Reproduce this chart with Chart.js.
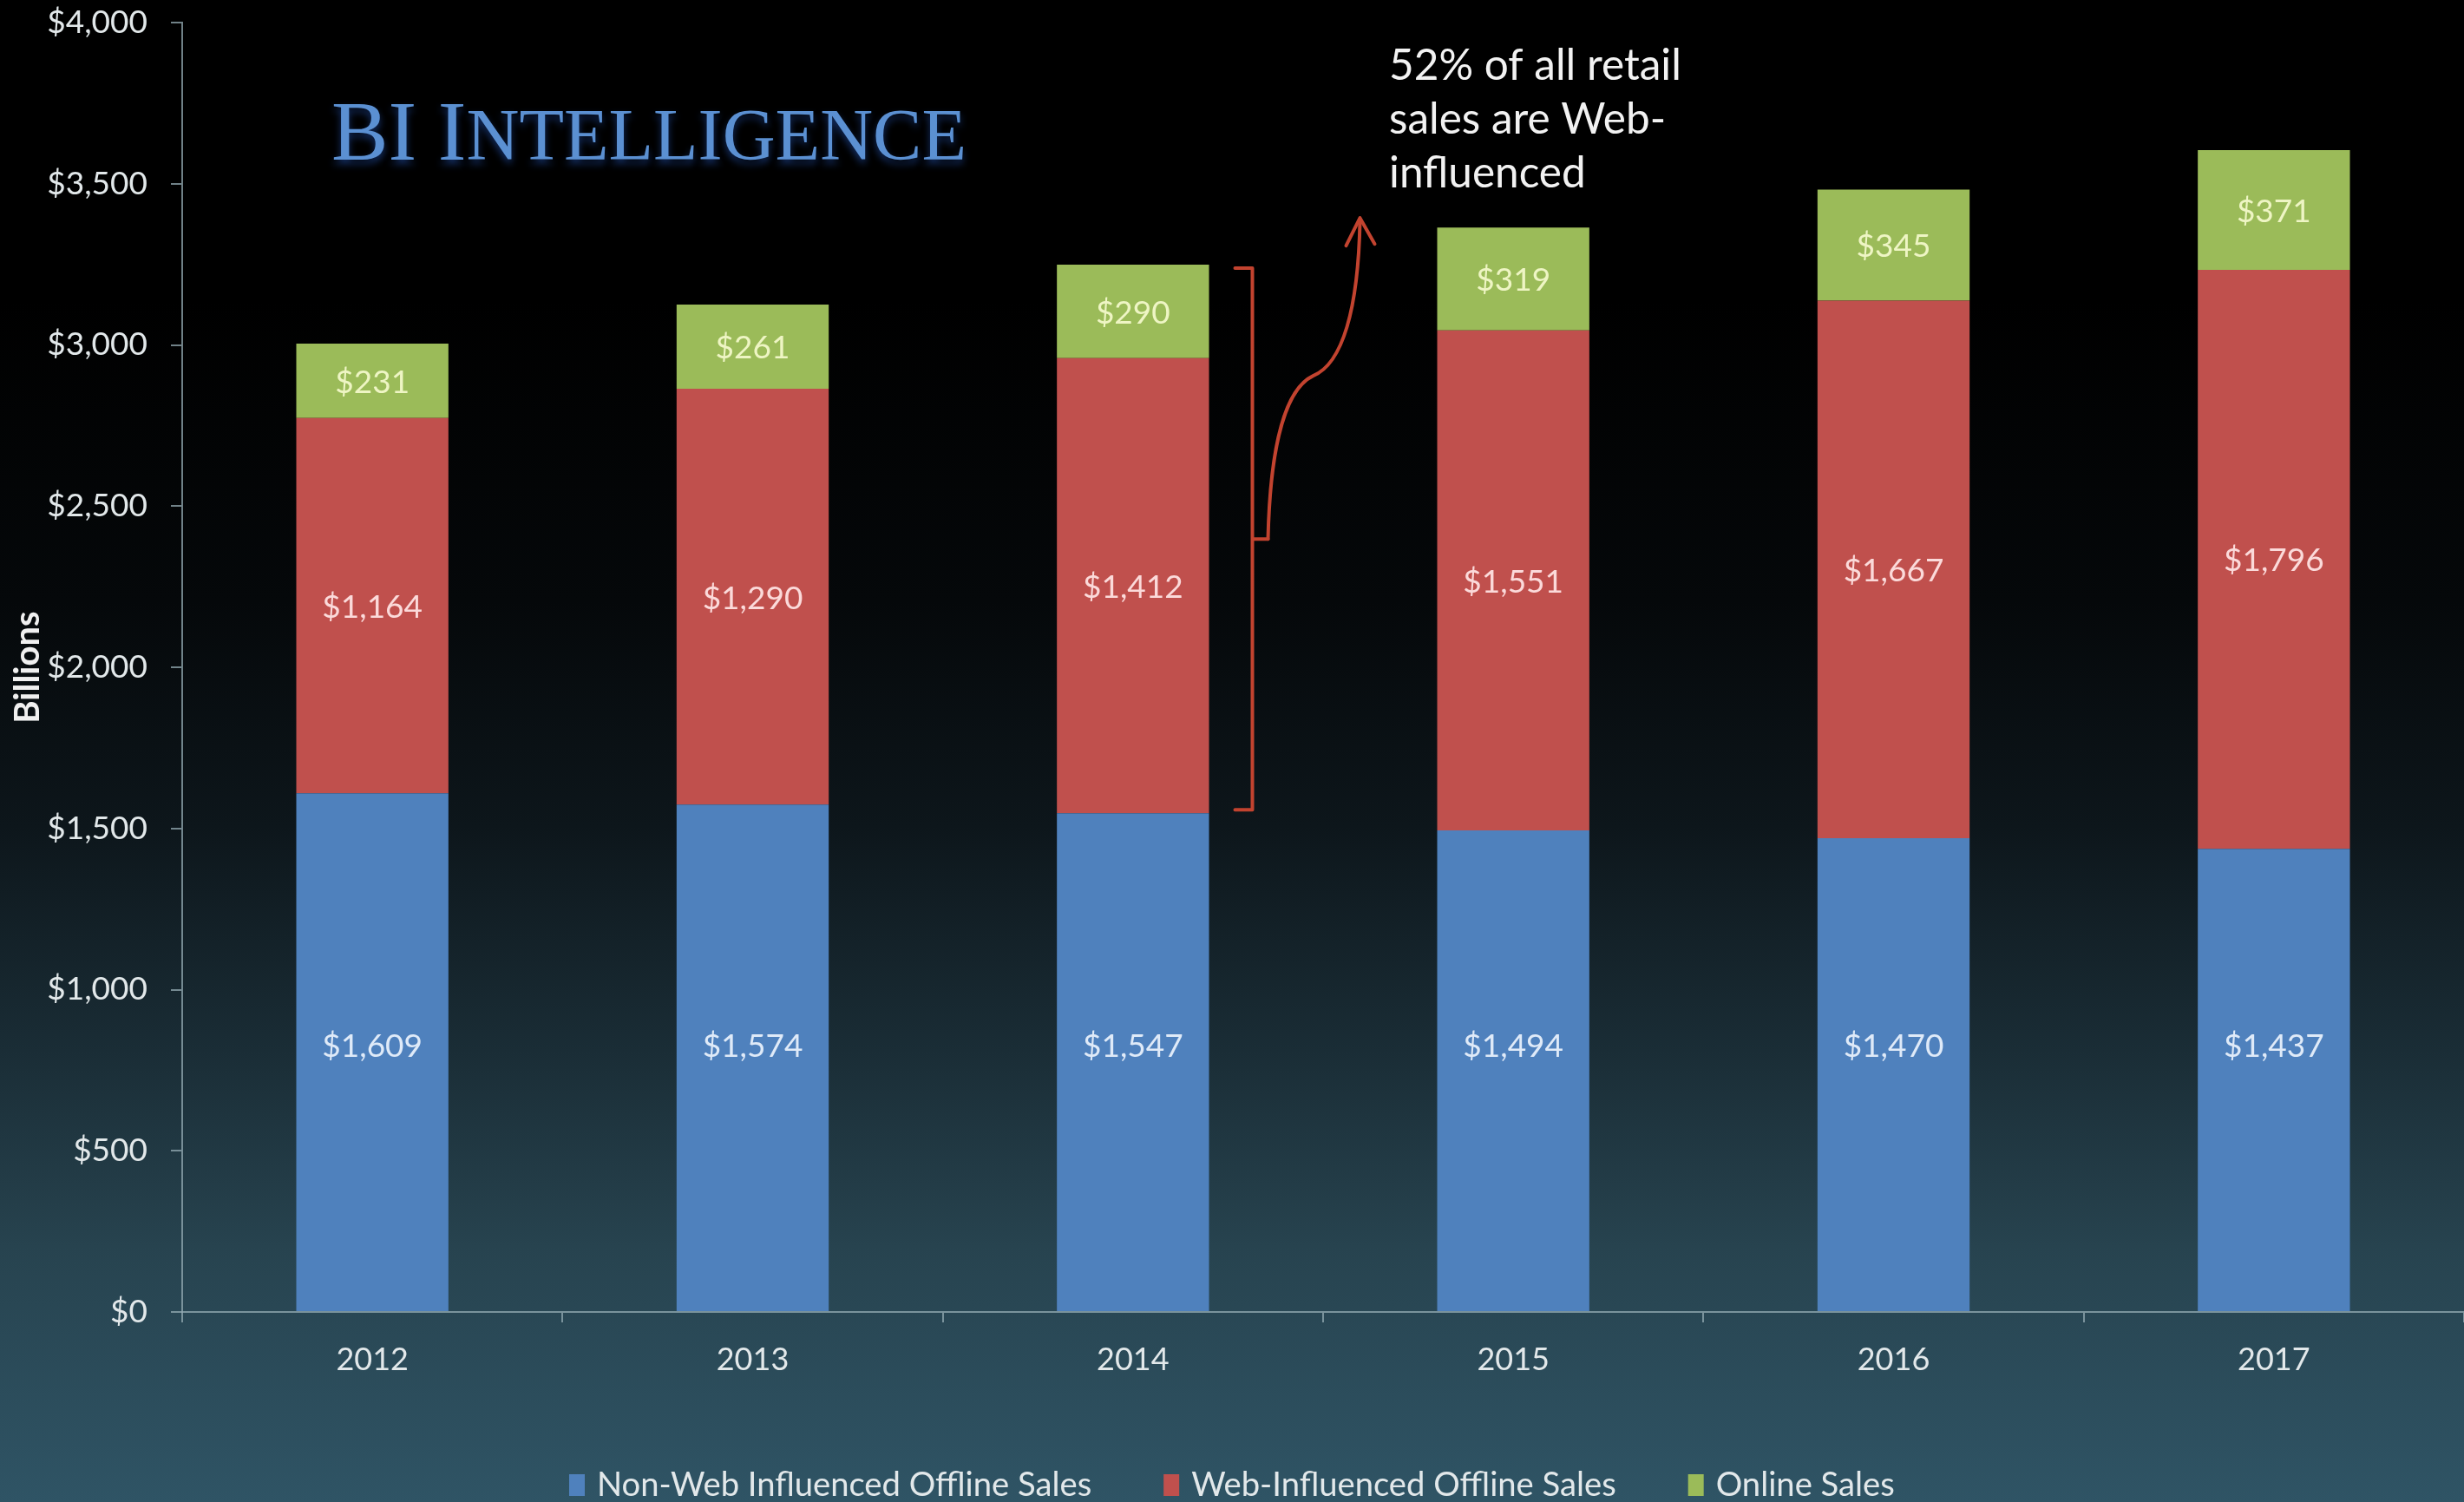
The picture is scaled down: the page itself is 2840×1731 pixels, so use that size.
<!DOCTYPE html>
<html>
<head>
<meta charset="utf-8">
<script src="https://cdn.jsdelivr.net/npm/chart.js@4.4.1/dist/chart.umd.min.js"></script>
<style>
  html, body { margin: 0; padding: 0; overflow: hidden; }
  body {
    width: 2840px; height: 1731px;
    background: linear-gradient(to bottom, #000000 0%, #000000 20%, #05080a 40%, #0d161b 55%, #1a2d36 70%, #27434f 83%, #2f5465 100%);
  }
  #wrap { position: absolute; left: 0; top: 0; width: 2840px; height: 1731px; }
</style>
</head>
<body>
<div id="wrap"><canvas id="c" width="2840" height="1731"></canvas></div>
<script>
// ---- Data ----
const categories = ['2012', '2013', '2014', '2015', '2016', '2017'];
const nonWebOffline = [1609, 1574, 1547, 1494, 1470, 1437];
const webInfluencedOffline = [1164, 1290, 1412, 1551, 1667, 1796];
const onlineSales = [231, 261, 290, 319, 345, 371];
const seriesNames = ['Non-Web Influenced Offline Sales', 'Web-Influenced Offline Sales', 'Online Sales'];
const yTickMax = 4000;
const yTickStep = 500;
const titleParts = [['BI ', 1], ['I', 1], ['NTELLIGENCE', 0.86]];
const annotationLines = ['52% of all retail', 'sales are Web-', 'influenced'];
const bracketCategoryIndex = 2;

// ---- Styles ----
const FONT = 'Lato';
const axisColor = 'rgba(150,172,180,0.75)';
const tickColor = '#e2e8ea';
const barColors = ['#4f81bd', '#c0504d', '#9bbb59'];
const labelColors = ['#dfeaf8', '#fbdada', '#eef5c4'];
const accentRed = '#c2432f';
const bottomLabelAnchor = 830; // bottom-series labels sit at a common height, as in the source

function money(v) { return '$' + Number(v).toLocaleString('en-US'); }

function fitSize(ctx, text, font, target) {
  ctx.font = font.replace('SIZE', '100px');
  const w = ctx.measureText(text).width;
  return 100 * target / w;
}

const overlayPlugin = {
  id: 'overlay',
  afterDatasetsDraw(chart) {
    const ctx = chart.ctx;
    const yScale = chart.scales.y;
    ctx.save();
    ctx.textAlign = 'center';
    ctx.textBaseline = 'middle';
    ctx.font = '37px ' + FONT;
    chart.data.datasets.forEach((ds, di) => {
      const meta = chart.getDatasetMeta(di);
      meta.data.forEach((el, i) => {
        let y = (el.y + el.base) / 2;
        if (di === 0) y = yScale.getPixelForValue(bottomLabelAnchor);
        ctx.fillStyle = labelColors[di];
        ctx.fillText(money(ds.data[i]), el.x, y + 2);
      });
    });
    ctx.restore();
  },
  afterDraw(chart) {
    const ctx = chart.ctx;

    // Title (small caps drawn as two sizes of capitals)
    ctx.save();
    const serif = '"Liberation Serif"';
    const base = 96;
    let total = 0;
    titleParts.forEach(([t, s]) => { ctx.font = (base * s) + 'px ' + serif; total += ctx.measureText(t).width; });
    const k = 732 / total;
    let tx = 382;
    ctx.fillStyle = '#5b90d2';
    ctx.shadowColor = 'rgba(30,70,150,0.7)';
    ctx.shadowBlur = 8;
    ctx.shadowOffsetY = 5;
    ctx.textBaseline = 'alphabetic';
    ctx.textAlign = 'left';
    titleParts.forEach(([t, s]) => {
      ctx.font = (base * s * k).toFixed(1) + 'px ' + serif;
      ctx.fillText(t, tx, 184);
      tx += ctx.measureText(t).width;
    });
    ctx.restore();

    // Annotation text
    ctx.save();
    const annSize = fitSize(ctx, annotationLines[0], '400 SIZE ' + FONT, 337);
    ctx.font = '400 ' + annSize.toFixed(1) + 'px ' + FONT;
    ctx.fillStyle = '#f2f2f2';
    ctx.textBaseline = 'alphabetic';
    ctx.textAlign = 'left';
    annotationLines.forEach((t, i) => ctx.fillText(t, 1601, 92 + i * 62));
    ctx.restore();

    // Bracket around 2014 web-influenced share
    const webMeta = chart.getDatasetMeta(1);
    const onMeta = chart.getDatasetMeta(2);
    const redEl = webMeta.data[bracketCategoryIndex];
    const greenEl = onMeta.data[bracketCategoryIndex];
    const right = redEl.x + redEl.width / 2;
    const yTop = greenEl.y;
    const yBot = redEl.base;
    const xLine = right + 50;
    const yMid = (yTop + yBot) / 2;
    ctx.save();
    ctx.strokeStyle = accentRed;
    ctx.lineWidth = 4;
    ctx.lineJoin = 'round';
    ctx.lineCap = 'round';
    ctx.beginPath();
    ctx.moveTo(right + 30, yTop + 4);
    ctx.lineTo(xLine, yTop + 4);
    ctx.lineTo(xLine, yBot - 4);
    ctx.lineTo(right + 30, yBot - 4);
    ctx.moveTo(xLine, yMid);
    ctx.lineTo(right + 68, yMid);
    ctx.stroke();
    const sx = right + 68, sy = yMid;
    ctx.beginPath();
    ctx.moveTo(sx, sy);
    ctx.bezierCurveTo(sx + 2, sy - 85, sx + 14, sy - 170, sx + 52, sy - 188);
    ctx.bezierCurveTo(sx + 86, sy - 202, sx + 104, sy - 265, sx + 106, sy - 366);
    ctx.stroke();
    ctx.beginPath();
    ctx.moveTo(sx + 90, sy - 338);
    ctx.lineTo(sx + 106, sy - 370);
    ctx.lineTo(sx + 123, sy - 340);
    ctx.stroke();
    ctx.restore();

    // Legend
    ctx.save();
    const legSize = fitSize(ctx, seriesNames[0], '400 SIZE ' + FONT, 571);
    ctx.font = '400 ' + legSize.toFixed(1) + 'px ' + FONT;
    ctx.textBaseline = 'middle';
    ctx.textAlign = 'left';
    let lx = 656;
    const ly = 1712;
    chart.data.datasets.forEach((ds) => {
      ctx.fillStyle = ds.backgroundColor;
      ctx.fillRect(lx, ly - 13, 18, 25);
      ctx.fillStyle = tickColor;
      ctx.fillText(ds.label, lx + 32, ly);
      lx += 32 + ctx.measureText(ds.label).width + 83;
    });
    ctx.restore();
  }
};

const datasets = [nonWebOffline, webInfluencedOffline, onlineSales].map((d, i) => ({
  label: seriesNames[i],
  data: d,
  backgroundColor: barColors[i],
  borderWidth: 0,
  categoryPercentage: 1.0,
  barPercentage: 0.4
}));

new Chart(document.getElementById('c'), {
  type: 'bar',
  data: { labels: categories, datasets },
  options: {
    responsive: false,
    devicePixelRatio: 1,
    animation: false,
    layout: { padding: { top: 26, right: 0, left: 0, bottom: 0 } },
    plugins: { legend: { display: false }, tooltip: { enabled: false } },
    scales: {
      x: {
        stacked: true,
        grid: { display: true, offset: true, drawOnChartArea: false, drawTicks: true, tickLength: 12, color: axisColor, lineWidth: 2 },
        border: { display: true, color: axisColor, width: 2 },
        ticks: { color: tickColor, font: { family: FONT, size: 36 }, padding: 22 },
        afterFit(scale) { scale.height = 219; scale.paddingLeft = 0; scale.paddingRight = 0; }
      },
      y: {
        stacked: true,
        min: 0,
        max: yTickMax,
        grid: { display: true, drawOnChartArea: false, drawTicks: true, tickLength: 13, color: axisColor, lineWidth: 2 },
        border: { display: true, color: axisColor, width: 2 },
        ticks: { stepSize: yTickStep, color: tickColor, font: { family: FONT, size: 37 }, padding: 27, callback: (v) => money(v) },
        title: { display: true, text: 'Billions', color: '#f0f0f0', font: { family: FONT, size: 40, weight: 'bold' }, padding: { top: 8, bottom: 0 } },
        afterFit(scale) { scale.width = 210; scale.paddingTop = 0; scale.paddingBottom = 0; }
      }
    }
  },
  plugins: [overlayPlugin]
});
</script>
</body>
</html>
